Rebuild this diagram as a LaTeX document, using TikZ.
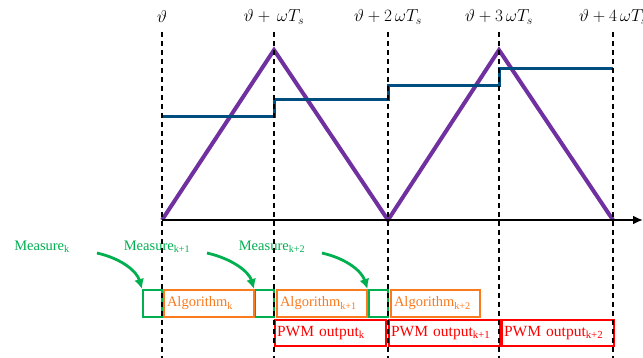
\documentclass[tikz,border=0pt]{standalone}
\usepackage{fontspec}
\setmainfont{Liberation Serif}
\usetikzlibrary{arrows.meta}
\definecolor{measgreen}{RGB}{0,176,80}
\definecolor{algorange}{RGB}{250,122,30}
\definecolor{pwmred}{RGB}{255,0,0}
\definecolor{carrpurple}{RGB}{112,48,160}
\definecolor{refblue}{RGB}{0,78,128}

\begin{document}
\begin{tikzpicture}[x=1pt,y=-1pt,
  lbl/.style={font=\fontsize{14.5}{16}\selectfont},
  tlbl/.style={font=\fontsize{16.5}{18}\selectfont},
  measbox/.style={draw=measgreen,line width=2pt,minimum width=19pt,minimum height=27pt,inner sep=0pt},
  algbox/.style={draw=algorange,text=algorange,line width=2pt,lbl,anchor=west,minimum height=27pt,inner xsep=3pt,inner ysep=0pt,align=left,text width=#1},
  pwmbox/.style={draw=pwmred,text=pwmred,line width=2pt,font=\fontsize{15.5}{17}\selectfont,anchor=west,minimum height=26pt,inner xsep=2pt,inner ysep=0pt,align=left,text width=#1},
  measlbl/.style={text=measgreen,lbl},
  measarrow/.style={draw=measgreen,line width=2.8pt,-{Latex[length=10pt,width=10pt]}},
  guide/.style={black,line width=1.1pt,dash pattern=on 5pt off 4pt}]
\useasboundingbox (0,0) rectangle (643,358);
% carrier and reference
\draw[carrpurple,line width=4pt] (162,220) -- (274,50) -- (388,220) -- (499,50) -- (613,220);
\draw[refblue,line width=3pt] (162,117) -- (274,117) -- (274,100) -- (388,100) -- (388,86) -- (499,86) -- (499,69) -- (613,69);
\draw[black,line width=2.5pt,-{Latex[length=10pt,width=9pt]}] (162,220) -- (643,220);
% sampling instants
\node[tlbl] (t0) at (162,17) {$\vartheta$};
\node[tlbl] (t1) at (274,17) {$\vartheta+\,\omega T_s$};
\node[tlbl] (t2) at (388,17) {$\vartheta+2\,\omega T_s$};
\node[tlbl] (t3) at (499,17) {$\vartheta+3\,\omega T_s$};
\node[tlbl] (t4) at (613,17) {$\vartheta+4\,\omega T_s$};
% task boxes
\node[measbox] (m1) at (152.5,303.5) {};
\node[measbox] (m2) at (264.5,303.5) {};
\node[measbox] (m3) at (378,303.5) {};
\node[algbox=84pt] (a1) at (163,303.5) {Algorithm\textsubscript{k}};
\node[algbox=84pt] (a2) at (276,303.5) {Algorithm\textsubscript{k+1}};
\node[algbox=83pt] (a3) at (390,303.5) {Algorithm\textsubscript{k+2}};
\node[pwmbox=107pt] (p1) at (274,333) {PWM output\textsubscript{k}};
\node[pwmbox=107pt] (p2) at (388,333) {PWM output\textsubscript{k+1}};
\node[pwmbox=108pt] (p3) at (501,333) {PWM output\textsubscript{k+2}};
% measurements
\node[measlbl] (ml1) at (42,247) {Measure\textsubscript{k}};
\node[measlbl] (ml2) at (157,247) {Measure\textsubscript{k+1}};
\node[measlbl] (ml3) at (272,247) {Measure\textsubscript{k+2}};
\coordinate (s1) at (97,253);
\coordinate (s2) at (207,253);
\coordinate (s3) at (322,253);
\draw[measarrow] (s1) .. controls (123,259) and (137,272) .. (m1.north west);
\draw[measarrow] (s2) .. controls (233,259) and (249,272) .. (m2.north west);
\draw[measarrow] (s3) .. controls (348,259) and (362,272) .. (m3.north west);
\foreach \x in {162,274,388,499,613} {\draw[guide] (\x,32) -- (\x,358);}
\end{tikzpicture}
\end{document}
